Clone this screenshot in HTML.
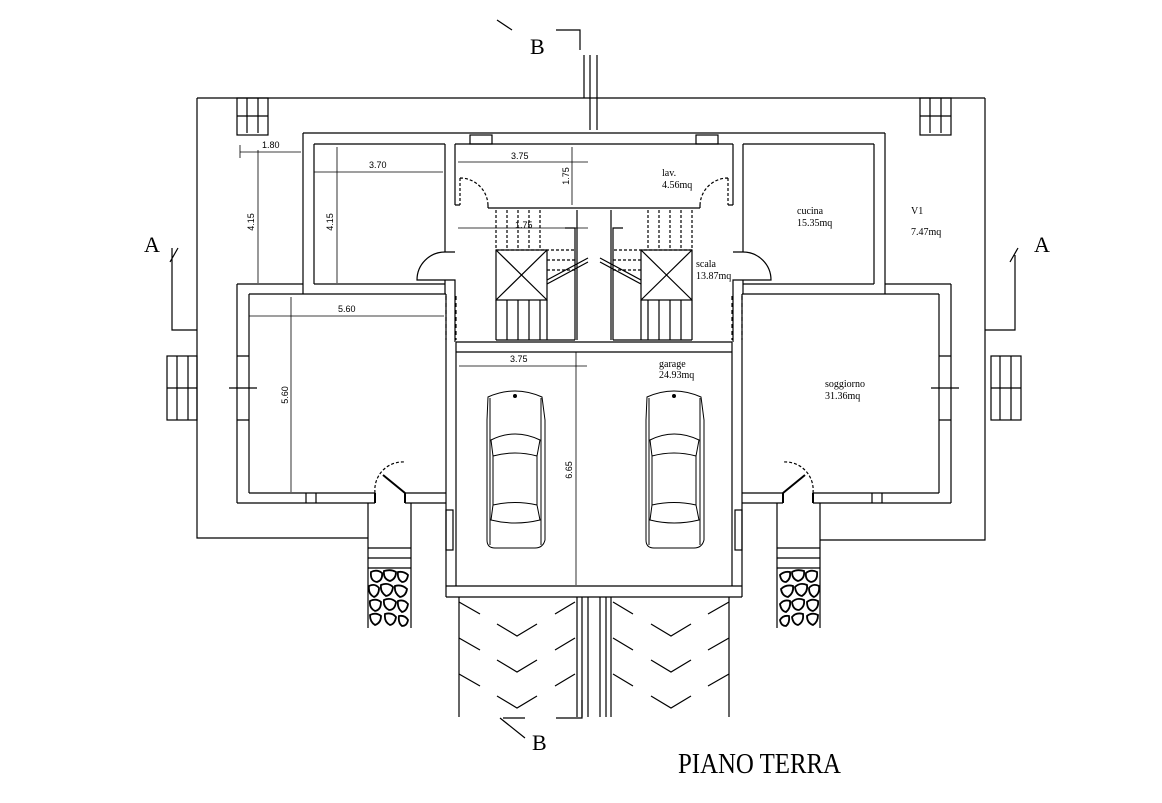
<!DOCTYPE html>
<html><head><meta charset="utf-8"><style>
html,body{margin:0;padding:0;background:#fff;}
svg{display:block}
text{font-family:"Liberation Sans",sans-serif;fill:#000}
.s{font-family:"Liberation Serif",serif}
</style></head><body>
<svg width="1162" height="803" viewBox="0 0 1162 803" xmlns="http://www.w3.org/2000/svg">
<defs>
<g id="car" fill="none" stroke="#000" stroke-width="1">
<path d="M488,397 Q515,385 542,397 L545,420 L545,540 Q543,548 535,548 L495,548 Q487,548 487,540 L487,420 Z"/>
<path d="M490,398 L490,545 M541,398 L541,545"/>
<path d="M491,440 Q515,428 540,440 L537,456 Q515,450 493,456 Z"/>
<path d="M493,456 L493,505 M537,456 L537,505"/>
<path d="M493,505 Q515,500 537,505 L540,520 Q515,526 491,520 Z"/>
<circle cx="515" cy="396" r="1.5" fill="#000"/>
</g>
<g id="half" fill="none" stroke="#000" stroke-width="1.2">
<rect x="237" y="98" width="31" height="37"/>
<path d="M247,98 V133 M258,98 V133 M237,116 H268"/>
<path d="M303,133 H594 M314,144 H445 M455,144 H594"/>
<rect x="470" y="135" width="22" height="9"/>
<path d="M303,133 V294 M314,144 V284 M314,284 H445 M237,284 H303 M237,284 V503 M249,294 V493 M249,294 H446"/>
<path d="M445,144 V252 M455,144 V205 M455,252 H445 M445,280 V294 M445,280 H455 V342"/>
<path d="M445,252 A28,28 0 0 0 417,280 H445" />
<path d="M455,205 H460 M488,208 H594 M488,208 V205"/>
<path d="M460,178 V205 M460,178 A28,28 0 0 1 488,206" stroke-dasharray="3,2"/>
<rect x="496" y="250" width="51" height="50"/>
<path d="M496,250 L547,300 M547,250 L496,300"/>
<path d="M496,300 V340 M507,300 V340 M518,300 V340 M529,300 V340 M540,300 V340 M547,300 V340 M496,340 H575"/>
<path d="M496,210 V250 M507,210 V250 M518,210 V250 M529,210 V250 M540,210 V250 M496,250 H575 M547,260 H575 M547,270 H575" stroke-dasharray="3,2"/>
<path d="M547,280 L588,258 M547,284 L588,262 M565,228 H575 V340 M577,210 V340"/>
<path d="M446,294 V597 M456,342 V586 M456,342 H594 M456,352 H594 M446,586 H594 M446,597 H594"/>
<rect x="446" y="510" width="7" height="40"/>
<path d="M446,296 V340 M456,296 V340" stroke-dasharray="4,3"/>
<path d="M237,503 H375 M249,493 H375 M405,493 H446 M405,503 H446 M306,493 V503 M316,493 V503"/>
<path d="M375,493 V503 M405,493 V503 M405,493 L383,475" stroke-width="2"/>
<path d="M375,493 A28,28 0 0 1 405,462" stroke-dasharray="3,2"/>
<rect x="167" y="356" width="30" height="64"/>
<path d="M177,356 V420 M188,356 V420 M167,388 H197 M229,388 H257 M237,356 H249 M237,420 H249"/>
<path d="M368,503 V628 M411,503 V628 M368,548 H411 M368,558 H411 M368,568 H411"/>
<g stroke-width="1.8">
<path d="M371,572 q6,-3 11,1 q1,7 -5,9 q-7,-1 -6,-10 Z M384,571 q7,-2 12,1 q0,7 -6,9 q-7,-2 -6,-10 Z M398,572 q6,-1 10,3 q-1,7 -6,7 q-5,-3 -4,-10 Z M369,586 q6,-3 10,2 q0,7 -5,9 q-6,-3 -5,-11 Z M381,585 q7,-3 12,2 q-1,8 -7,9 q-6,-4 -5,-11 Z M395,586 q7,-2 12,3 q-1,7 -7,8 q-6,-4 -5,-11 Z M370,601 q6,-3 11,1 q0,8 -6,9 q-6,-3 -5,-10 Z M384,600 q7,-3 12,2 q-1,8 -7,8 q-6,-3 -5,-10 Z M398,601 q6,-2 10,3 q-1,7 -6,8 q-5,-4 -4,-11 Z M370,615 q6,-3 11,1 q0,7 -6,9 q-5,-3 -5,-10 Z M385,614 q7,-2 11,3 q-1,7 -6,8 q-6,-3 -5,-11 Z M399,616 q6,-1 9,4 q-1,6 -6,6 q-4,-3 -3,-10 Z"/>
</g>
<path d="M459,597 V717 M577,597 V717 M582,597 V717 M588,597 V717"/>
<path d="M459,602 L480,614 M555,614 L575,602 M497,624 L517,636 L537,624 M459,638 L480,650 M555,650 L575,638 M497,660 L517,672 L537,660 M459,674 L480,686 M555,686 L575,674 M497,696 L517,708 L537,696"/>
</g>
</defs>
<rect width="1162" height="803" fill="#fff"/>
<use href="#half"/>
<use href="#half" transform="translate(1188,0) scale(-1,1)"/>
<use href="#car"/>
<use href="#car" transform="translate(159,0)"/>
<g fill="none" stroke="#000" stroke-width="1.2">
<path d="M197,98 H985"/>
<polyline points="197,98 197,538 368,538"/>
<polyline points="985,98 985,540 820,540"/>
<path d="M590,55 V130 M597,55 V130 M584,55 V98"/>
<path d="M497,20 L512,30 M556,30 H580 V50"/>
<path d="M500,718 L525,738 M503,718 H525 M556,718 H582 V700"/>
<path d="M170,262 L178,248 M172,248 V330 H197"/>
<path d="M1010,262 L1018,248 M1015,255 V330 H985"/>
</g>
<g fill="none" stroke="#000" stroke-width="0.8">
<path d="M240,152 H301 M240,145 V158 M258,150 V283"/>
<path d="M314,172 H443 M337,147 V283"/>
<path d="M458,162 H588 M572,147 V205 M458,228 H588"/>
<path d="M249,316 H444 M291,297 V492"/>
<path d="M459,366 H587 M576,352 V585"/>
</g>
<g font-size="9">
<text x="262" y="148">1.80</text>
<text x="369" y="168">3.70</text>
<text x="511" y="159">3.75</text>
<text x="338" y="312">5.60</text>
<text x="510" y="362">3.75</text>
<text x="515" y="228">1.75</text>
<text transform="translate(254,222) rotate(-90)" text-anchor="middle">4.15</text>
<text transform="translate(333,222) rotate(-90)" text-anchor="middle">4.15</text>
<text transform="translate(569,176) rotate(-90)" text-anchor="middle">1.75</text>
<text transform="translate(288,395) rotate(-90)" text-anchor="middle">5.60</text>
<text transform="translate(572,470) rotate(-90)" text-anchor="middle">6.65</text>
</g>
<g font-size="10">
<text class="s" x="662" y="176">lav.</text>
<text class="s" x="662" y="188">4.56mq</text>
<text class="s" x="797" y="214">cucina</text>
<text class="s" x="797" y="226">15.35mq</text>
<text class="s" x="911" y="214">V1</text>
<text class="s" x="911" y="235">7.47mq</text>
<text class="s" x="696" y="267">scala</text>
<text class="s" x="696" y="279">13.87mq</text>
<text class="s" x="659" y="367">garage</text>
<text class="s" x="659" y="378">24.93mq</text>
<text class="s" x="825" y="387">soggiorno</text>
<text class="s" x="825" y="399">31.36mq</text>
</g>
<text class="s" x="530" y="54" font-size="22">B</text>
<text class="s" x="532" y="750" font-size="22">B</text>
<text class="s" x="144" y="252" font-size="22">A</text>
<text class="s" x="1034" y="252" font-size="22">A</text>
<text class="s" x="678" y="773" font-size="28" textLength="163" lengthAdjust="spacingAndGlyphs">PIANO  TERRA</text>
</svg>
</body></html>
